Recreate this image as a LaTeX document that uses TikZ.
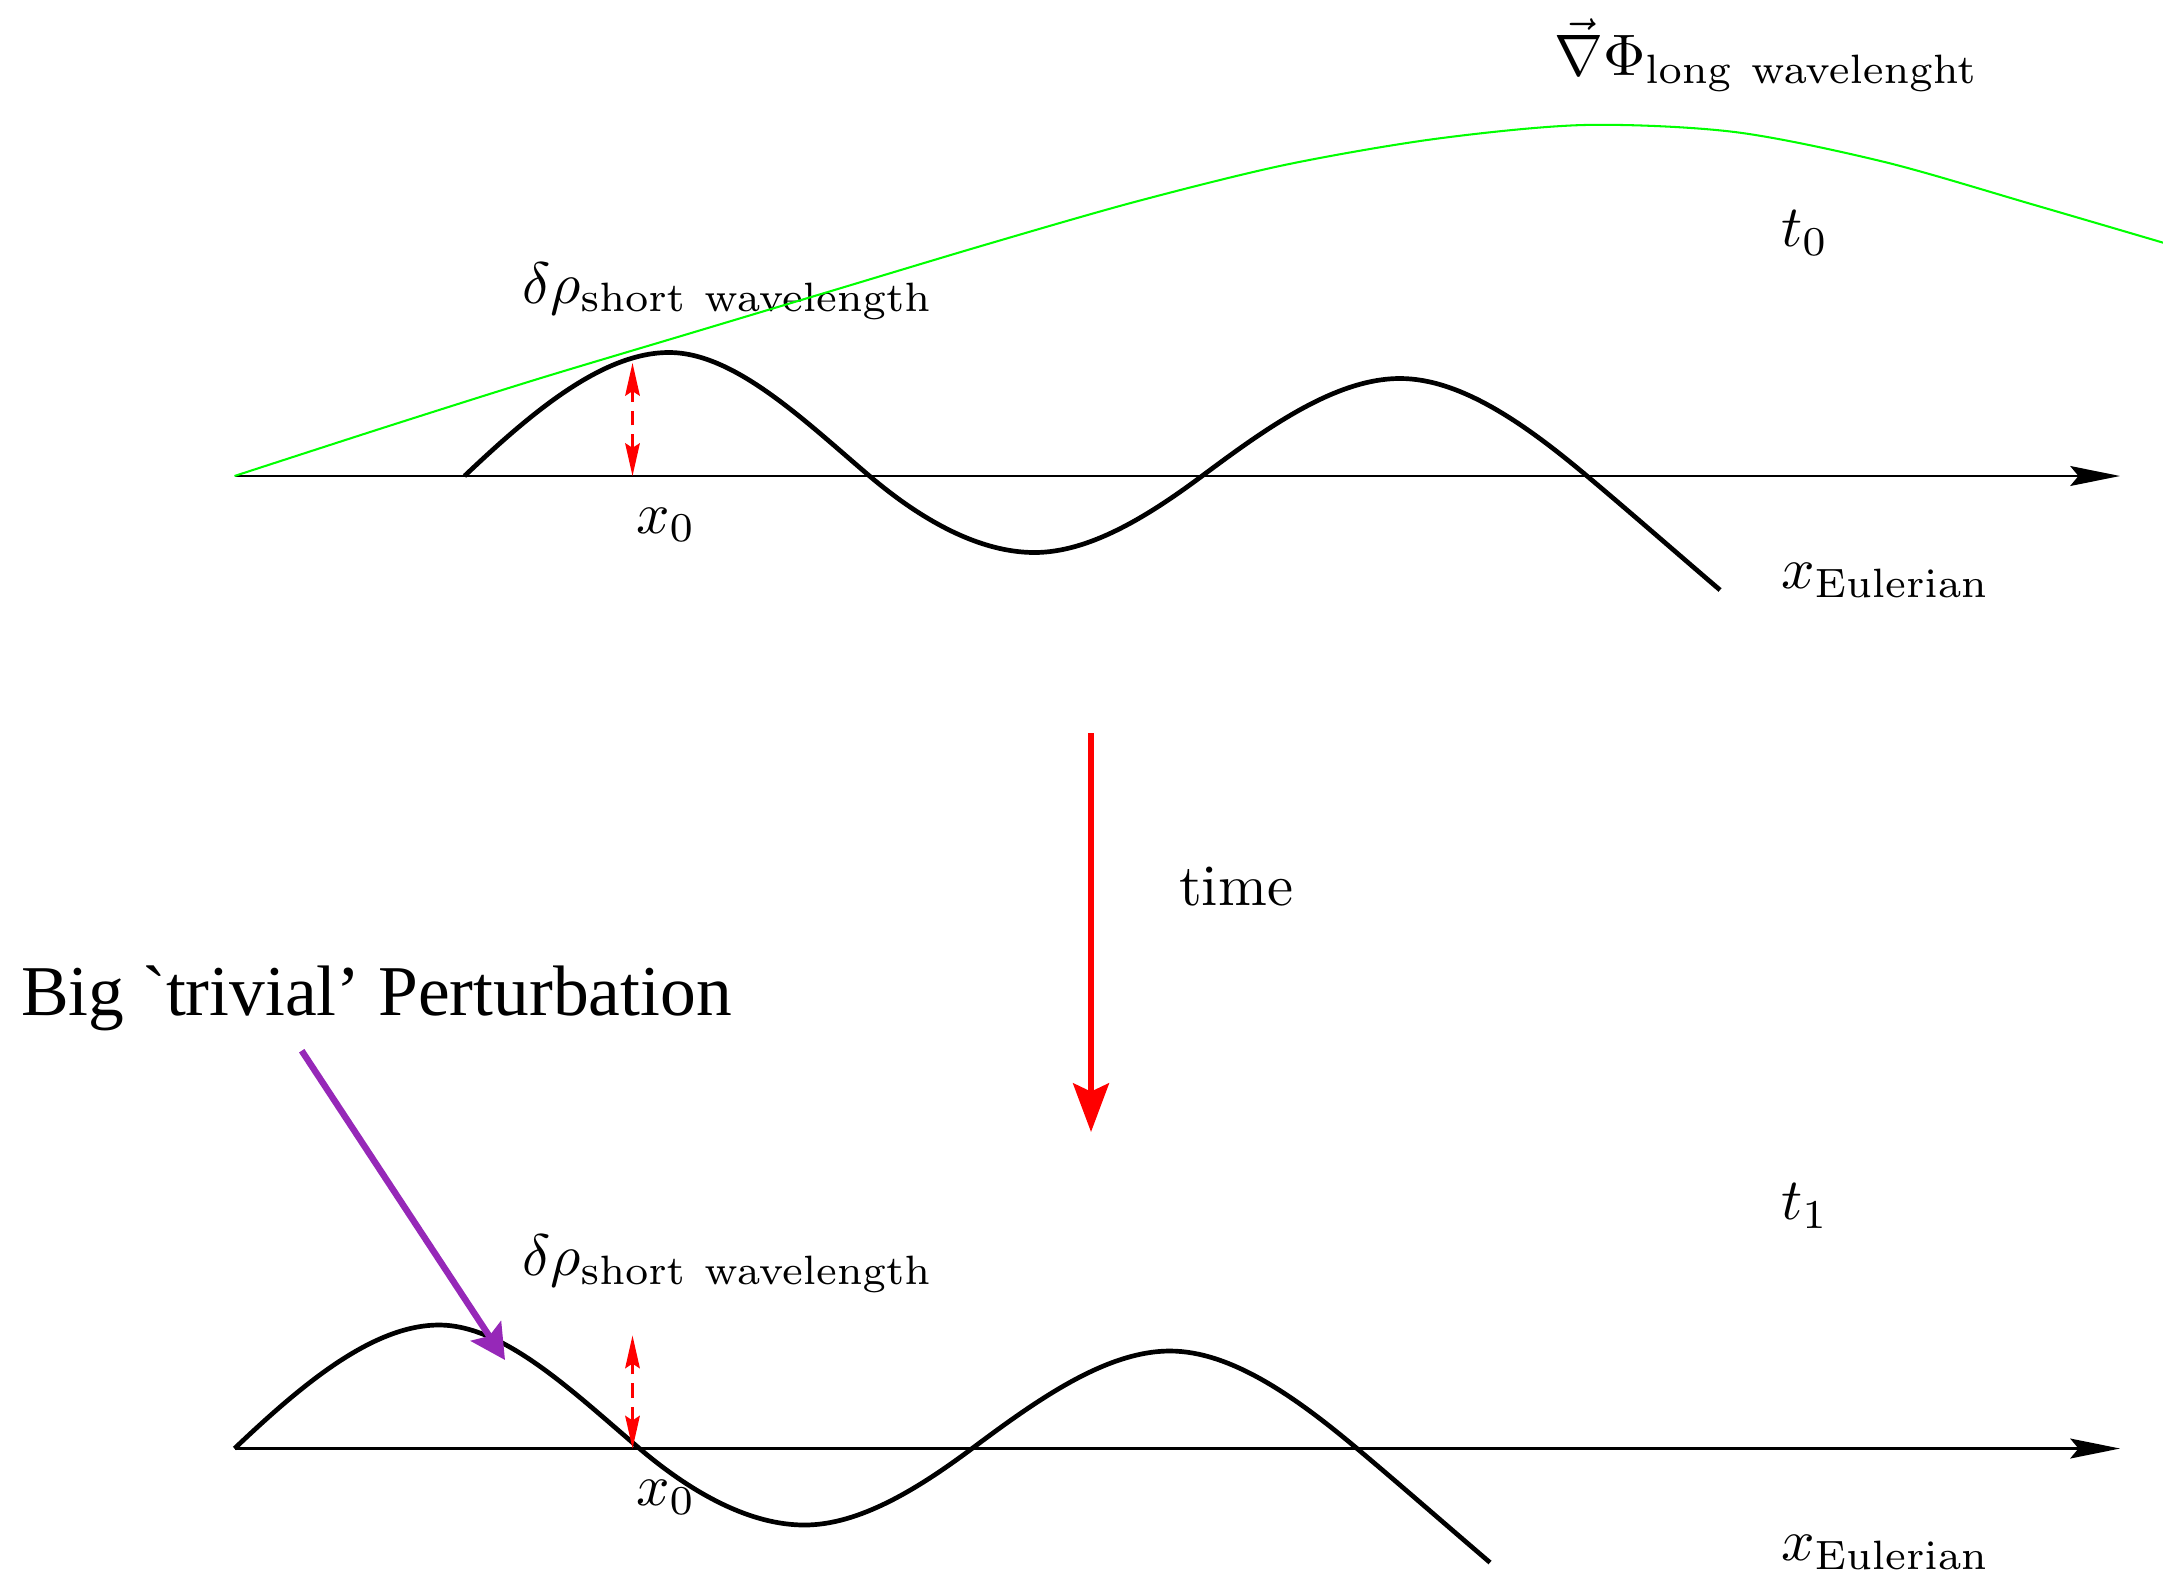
\documentclass[tikz,border=0pt]{standalone}
\usepackage[no-math]{fontspec}
\usetikzlibrary{arrows.meta}
\newfontfamily\bigfont{Liberation Serif}[Ligatures=TeXOff]
\definecolor{bigpurple}{RGB}{150,40,184}
\tikzset{
    axis/.style={line width=0.4pt, -{Stealth[length=8.5pt,width=3.4pt,inset=1.4pt]}},
    wave/.style={line width=0.8pt},
    longwave/.style={green, line width=0.35pt},
    ampl/.style={red, line width=0.4pt, dash pattern=on 2.5pt off 1.5pt,
        {Stealth[length=5.6pt,width=2.5pt,inset=0.8pt]}-{Stealth[length=5.6pt,width=2.5pt,inset=0.8pt]}},
    timearrow/.style={red, line width=1pt, -{Stealth[length=8.3pt,width=6.1pt,inset=1.4pt]}},
    bumparrow/.style={bigpurple, line width=1.1pt, -{Stealth[length=5.9pt,width=6.1pt,inset=1pt]}}
}
\begin{document}
\begin{tikzpicture}[x=0.6cm, y=0.6cm,
                    every node/.style={anchor=base west, inner sep=0pt}
                    ]
                    \useasboundingbox (-2.345,-1.275) rectangle (19.285,14.485);

                    \foreach \p/\dx/\dy in {0/2.3/9.725, 1/0/0}{
                        \coordinate (o\p) at (0,\dy);
                        \coordinate (e\p) at (18.855,\dy);
                        \draw[axis] (o\p) -- (e\p);
                        \draw[wave, shift={(\dx,\dy)}] (0,0)
                            .. controls (0.667,0.633) and (1.378,1.235) .. (2.045,1.235)
                            .. controls (2.699,1.235) and (3.396,0.556) .. (4.05,0)
                            .. controls (4.588,-0.457) and (5.162,-0.765) .. (5.70,-0.765)
                            .. controls (6.246,-0.765) and (6.829,-0.407) .. (7.375,0)
                            .. controls (8.020,0.481) and (8.710,0.975) .. (9.355,0.975)
                            .. controls (9.965,0.975) and (10.615,0.512) .. (11.225,0)
                            .. controls (11.668,-0.372) and (12.11,-0.76) .. (12.555,-1.14);
                        \coordinate (a\p) at (3.98,\dy);
                        \coordinate (b\p) at (3.98,\dy+1.13);
                        \draw[ampl] (a\p) -- (b\p);
                        \node (x0\p) at (4.005,\dy-0.57) {$x_0$};
                        \node (rho\p) at (2.865,\dy+1.73) {$\delta\rho_{\mathrm{short\ wavelength}}$};
                        \node (t\p) at (15.455,\dy+2.293) {$t_\p$};
                        \node (xe\p) at (15.455,\dy-1.123) {$x_{\mathrm{Eulerian}}$};
                    }

                    \draw[longwave, shift={(o0)}] plot[smooth] coordinates
                        {(0,0) (1.5,0.486) (3,0.96) (4.5,1.41) (6,1.86) (7.5,2.31) (9,2.74) (10.5,3.11)
                         (12,3.37) (13.5,3.51) (15,3.44) (16.5,3.14) (18,2.71) (19.5,2.27)};
                    \node (grad) at (13.185,13.735) {$\vec{\nabla}\Phi_{\mathrm{long\ wavelenght}}$};

                    \coordinate (tstart) at (8.565,7.155);
                    \coordinate (tend) at (8.565,3.165);
                    \draw[timearrow] (tstart) -- (tend);
                    \node (time) at (9.435,5.435) {time};

                    \node (big) at (-2.145,4.335) {\bigfont\fontsize{12.2}{14.6}\selectfont Big `trivial’ Perturbation};
                    \coordinate (ptail) at (0.672,3.978);
                    \coordinate (ptip) at (2.705,0.885);
                    \draw[bumparrow] (ptail) -- (ptip);
                \end{tikzpicture}
\end{document}
